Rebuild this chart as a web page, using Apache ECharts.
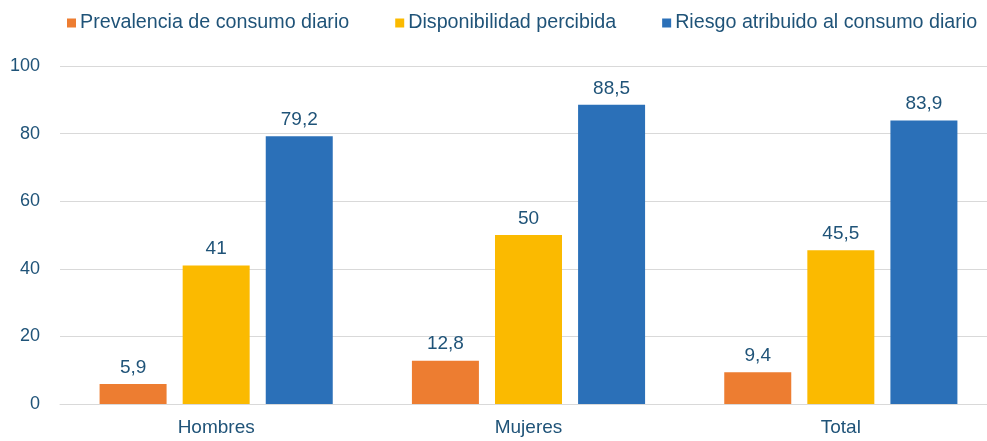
<!DOCTYPE html>
<html><head><meta charset="utf-8">
<script src="https://cdn.jsdelivr.net/npm/echarts@6/dist/echarts.min.js"></script>
<style>html,body{margin:0;padding:0;background:#fff}#c{width:987px;height:441px}</style>
</head><body><div id="c"></div>
<script>
const categories = ['Hombres', 'Mujeres', 'Total'];
const seriesNames = ['Prevalencia de consumo diario', 'Disponibilidad percibida', 'Riesgo atribuido al consumo diario'];
const prevalencia = [5.9, 12.8, 9.4];
const disponibilidad = [41, 50, 45.5];
const riesgo = [79.2, 88.5, 83.9];
const colors = ['#ED7D31', '#FBBA00', '#2B70B8'];
const txt = '#1F5378';
const font = '"Liberation Sans", Arial, sans-serif';

const chart = echarts.init(document.getElementById('c'));
const fmt = p => String(p.value).replace('.', ',');
function mk(name, data, color) {
  return {
    name, type: 'bar', data, barWidth: 67, barGap: '24%',
    itemStyle: { color },
    label: { show: true, position: 'top', distance: 7, formatter: fmt, color: txt, fontSize: 19, fontFamily: font },
    animation: false
  };
}
chart.setOption({
  animation: false,
  textStyle: { fontFamily: font },
  legend: {
    top: 8, left: 62,
    itemWidth: 9, itemHeight: 9, itemGap: 46,
    icon: 'rect',
    textStyle: { color: txt, fontSize: 19.7, fontFamily: font, padding: [0, 0, 0, -1] },
    data: seriesNames
  },
  grid: { left: 60, width: 937, top: 66, bottom: 37, containLabel: false, outerBoundsMode: 'none' },
  xAxis: {
    type: 'category', data: categories,
    axisLine: { lineStyle: { color: '#D9D9D9', width: 1 } },
    axisTick: { show: false },
    axisLabel: { color: txt, fontSize: 19, margin: 14, fontFamily: font }
  },
  yAxis: {
    type: 'value', min: 0, max: 100, interval: 20,
    axisLine: { show: false }, axisTick: { show: false },
    splitLine: { lineStyle: { color: '#D9D9D9', width: 1 } },
    axisLabel: { color: txt, fontSize: 18, margin: 20, fontFamily: font }
  },
  series: [
    mk(seriesNames[0], prevalencia, colors[0]),
    mk(seriesNames[1], disponibilidad, colors[1]),
    mk(seriesNames[2], riesgo, colors[2])
  ]
});
</script></body></html>
